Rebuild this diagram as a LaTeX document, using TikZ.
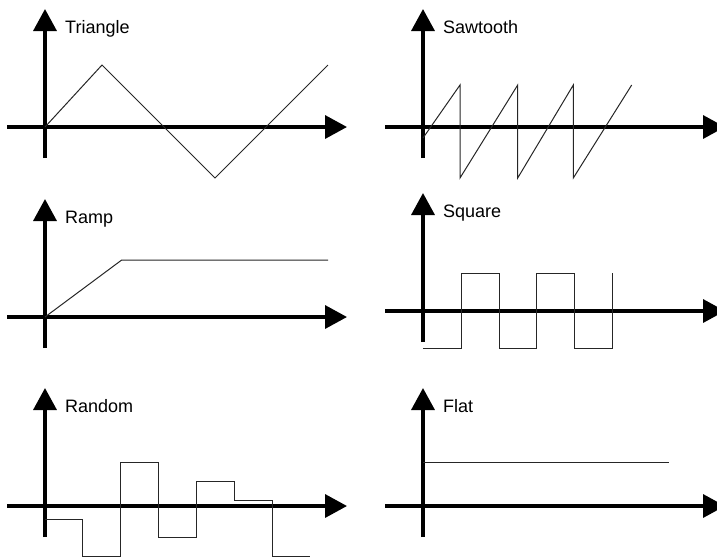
\documentclass[tikz,border=0pt]{standalone}
\usepackage{fontspec}
\setmainfont{Liberation Sans}
\usetikzlibrary{arrows.meta}

\tikzset{
  axis/.style={line width=3.5pt, -{Triangle[length=22pt,width=23pt]}},
  wave/.style={line width=1pt, black!85, line join=miter},
  wavename/.style={anchor=base west, inner sep=0pt, font=\fontsize{18}{21}\selectfont}
}

% one set of axes with its name, at the current origin
\newcommand{\waveaxes}[2]{%
  \draw[axis] (-38,0) -- (#2,0);
  \draw[axis] (0,31) -- (0,-118);
  \node[wavename] (#1) at (20,-94) {#1};
}

\begin{document}
\begin{tikzpicture}[x=1pt,y=-1pt]
  \clip (0,0) rectangle (717,558);

  % left column
  \begin{scope}[shift={(45,127)}]
    \waveaxes{Triangle}{302}
    \draw[wave] (0,0) -- (57,-62) -- (170,51) -- (283,-62);
  \end{scope}
  \begin{scope}[shift={(45,317)}]
    \waveaxes{Ramp}{302}
    \draw[wave] (0,0) -- (76.7,-57) -- (283,-57);
  \end{scope}
  \begin{scope}[shift={(45,506)}]
    \waveaxes{Random}{302}
    \draw[wave] (0,13.3) -- (37.7,13.3) -- (37.7,50) -- (75.7,50)
      -- (75.7,-43.3) -- (113.3,-43.3) -- (113.3,31.7) -- (151,31.7)
      -- (151,-24.3) -- (189.3,-24.3) -- (189.3,-6) -- (227.7,-6)
      -- (227.7,50) -- (265,50);
  \end{scope}

  % right column
  \begin{scope}[shift={(423,127)}]
    \waveaxes{Sawtooth}{302}
    \draw[wave] (0,11) -- (37,-42) -- (37,51) -- (94.7,-42) -- (94.7,51)
      -- (150.3,-42) -- (150.3,51) -- (208.7,-42);
  \end{scope}
  \begin{scope}[shift={(423,311)}]
    \waveaxes{Square}{302}
    \draw[wave] (0,37) -- (38.4,37) -- (38.4,-38) -- (76,-38) -- (76,37)
      -- (113.4,37) -- (113.4,-38) -- (151.7,-38) -- (151.7,37)
      -- (189.4,37) -- (189.4,-38);
  \end{scope}
  \begin{scope}[shift={(423,506)}]
    \waveaxes{Flat}{302}
    \draw[wave] (0,-43.3) -- (246.3,-43.3);
  \end{scope}
\end{tikzpicture}
\end{document}
